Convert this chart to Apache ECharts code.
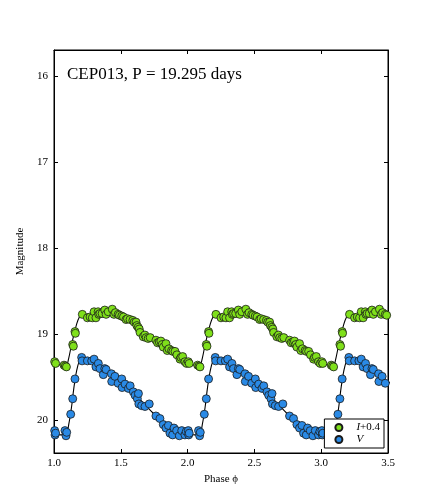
<!DOCTYPE html>
<html>
<head>
<meta charset="utf-8">
<script src="https://cdn.jsdelivr.net/npm/echarts@6/dist/echarts.min.js"></script>
<style>
html,body{margin:0;padding:0;background:#fff;}
#main{width:432px;height:504px;}
</style>
</head>
<body>
<div id="main"></div>
<script>
// one pulsation cycle, phase in [0,1), folded and repeated like the original plot
var iPhase = [0.005,0.012,0.075,0.085,0.093,0.14,0.145,0.157,0.16,0.212,0.25,0.27,0.287,0.30,0.314,0.33,0.335,0.344,0.36,0.38,0.39,0.406,0.436,0.449,0.46,0.48,0.49,0.507,0.52,0.539,0.55,0.569,0.59,0.60,0.614,0.62,0.63,0.638,0.644,0.668,0.68,0.69,0.705,0.72,0.763,0.775,0.788,0.80,0.81,0.818,0.838,0.848,0.86,0.88,0.89,0.906,0.92,0.943,0.95,0.963,0.98,0.993];
var iMag   = [19.32,19.34,19.36,19.37,19.38,19.12,19.14,18.97,18.99,18.77,18.81,18.80,18.81,18.74,18.81,18.74,18.77,18.76,18.76,18.72,18.77,18.74,18.71,18.77,18.75,18.77,18.78,18.79,18.80,18.83,18.82,18.83,18.84,18.86,18.86,18.90,18.92,18.94,18.98,19.03,19.01,19.04,19.05,19.04,19.07,19.10,19.09,19.08,19.12,19.15,19.11,19.19,19.17,19.19,19.20,19.20,19.24,19.29,19.27,19.26,19.32,19.34];

var vPhase = [0.005,0.008,0.012,0.082,0.09,0.095,0.125,0.14,0.157,0.207,0.21,0.25,0.282,0.30,0.314,0.332,0.344,0.369,0.38,0.39,0.43,0.432,0.456,0.48,0.507,0.51,0.532,0.557,0.57,0.594,0.607,0.624,0.632,0.635,0.656,0.681,0.713,0.763,0.793,0.818,0.838,0.856,0.868,0.888,0.898,0.918,0.938,0.956,0.98,0.99];
var vMag   = [20.12,20.17,20.15,20.12,20.18,20.14,19.93,19.75,19.52,19.27,19.31,19.31,19.31,19.29,19.38,19.34,19.40,19.47,19.40,19.41,19.46,19.55,19.49,19.57,19.52,19.62,19.58,19.63,19.60,19.67,19.71,19.75,19.69,19.81,19.83,19.84,19.81,19.95,19.98,20.05,20.09,20.06,20.15,20.17,20.09,20.12,20.18,20.12,20.17,20.13];

// template light curves
var tplPhase = [0.0,0.05,0.09,0.11,0.13,0.15,0.17,0.19,0.21,0.25,0.30,0.35,0.40,0.45,0.50,0.55,0.60,0.65,0.70,0.75,0.80,0.85,0.90,0.95];
var tplI     = [19.33,19.36,19.37,19.28,19.13,19.00,18.88,18.80,18.77,18.77,18.76,18.75,18.74,18.75,18.78,18.81,18.86,18.94,19.02,19.07,19.11,19.16,19.21,19.27];
var tplV     = [20.16,20.17,20.17,20.05,19.86,19.61,19.42,19.31,19.27,19.29,19.33,19.39,19.44,19.50,19.55,19.61,19.68,19.77,19.85,19.93,20.01,20.08,20.13,20.16];

var xTicks = [1.0,1.5,2.0,2.5,3.0,3.5];
var yTicks = [16,17,18,19,20];
var cycles = [0,1,2,3];

var serif = '"Liberation Serif", "DejaVu Serif", serif';

function fold(ph, mag){
    var out = [];
    cycles.forEach(function(k){
        for(var i=0;i<ph.length;i++){
            var x = ph[i]+k;
            if(x>=0.97 && x<=3.53){ out.push([x, mag[i]]); }
        }
    });
    return out;
}
function foldLine(ph, mag){
    var out = [];
    cycles.forEach(function(k){
        for(var i=0;i<ph.length;i++){ out.push([ph[i]+k, mag[i]]); }
    });
    return out;
}

var myChart = echarts.init(document.getElementById('main'));
var tickStyle = {show:true, inside:true, length:4, lineStyle:{color:'#000', width:1}};
var option = {
    animation: false,
    backgroundColor: '#fff',
    title: {
        text: 'CEP013, P = 19.295 days',
        left: 62, top: 61,
        textStyle: {fontFamily: serif, fontSize: 17, fontWeight: 'normal', color: '#000'}
    },
    legend: {
        orient: 'vertical',
        right: 48, bottom: 56,
        padding: [3, 4, 3, 10],
        itemGap: 1,
        itemWidth: 7, itemHeight: 7,
        icon: 'circle',
        borderColor: '#000', borderWidth: 1,
        backgroundColor: '#fff',
        data: ['I+0.4', 'V'],
        formatter: function(name){
            return name === 'V' ? '{it|V}' : '{it|I}+0.4';
        },
        textStyle: {
            fontFamily: serif, fontSize: 11, color: '#000', padding: [0,0,0,9],
            rich: {it: {fontStyle: 'italic', fontFamily: serif, fontSize: 11}}
        }
    },
    grid: {left: 54, right: 44, top: 50, bottom: 51, show: true, borderColor: '#000', borderWidth: 1},
    xAxis: [{
        type: 'value', min: 1, max: 3.5, interval: 0.5,
        name: 'Phase \u03d5', nameLocation: 'middle', nameGap: 21,
        nameTextStyle: {fontFamily: serif, fontSize: 11, color: '#000'},
        axisLine: {show: true, lineStyle: {color: '#000', width: 1}},
        axisTick: tickStyle,
        splitLine: {show: false},
        axisLabel: {fontFamily: serif, fontSize: 11, color: '#000', margin: 5,
            customValues: xTicks, formatter: function(v){ return v.toFixed(1); }}
    }, {
        type: 'value', min: 1, max: 3.5, interval: 0.5, position: 'top',
        axisLine: {show: true, lineStyle: {color: '#000', width: 1}},
        axisTick: tickStyle, axisLabel: {show: false}, splitLine: {show: false}
    }],
    yAxis: [{
        type: 'value', inverse: true, min: 15.7, max: 20.38,
        name: 'Magnitude', nameLocation: 'middle', nameGap: 23, nameRotate: 90,
        nameTextStyle: {fontFamily: serif, fontSize: 11, color: '#000'},
        axisLine: {show: true, lineStyle: {color: '#000', width: 1}},
        axisTick: {show: true, inside: true, length: 4, lineStyle: {color: '#000'}, customValues: yTicks},
        splitLine: {show: false},
        axisLabel: {fontFamily: serif, fontSize: 11, color: '#000', margin: 6, customValues: yTicks}
    }, {
        type: 'value', inverse: true, min: 15.7, max: 20.38, position: 'right',
        axisLine: {show: true, lineStyle: {color: '#000', width: 1}},
        axisTick: {show: true, inside: true, length: 4, lineStyle: {color: '#000'}, customValues: yTicks},
        axisLabel: {show: false}, splitLine: {show: false}
    }],
    series: [{
        name: 'tplI', type: 'line', data: foldLine(tplPhase, tplI), smooth: 0.3,
        showSymbol: false, clip: true, z: 1, silent: true,
        lineStyle: {color: '#000', width: 1.1}
    }, {
        name: 'tplV', type: 'line', data: foldLine(tplPhase, tplV), smooth: 0.3,
        showSymbol: false, clip: true, z: 1, silent: true,
        lineStyle: {color: '#000', width: 1.1}
    }, {
        name: 'I+0.4', type: 'scatter', data: fold(iPhase, iMag), symbolSize: 8, z: 3,
        itemStyle: {color: '#7fe01a', borderColor: '#1a1a1a', borderWidth: 0.8, opacity: 1}
    }, {
        name: 'V', type: 'scatter', data: fold(vPhase, vMag), symbolSize: 8, z: 3,
        itemStyle: {color: '#2a8ae6', borderColor: '#1a1a1a', borderWidth: 0.8, opacity: 1}
    }]
};
myChart.setOption(option);
</script>
</body>
</html>
